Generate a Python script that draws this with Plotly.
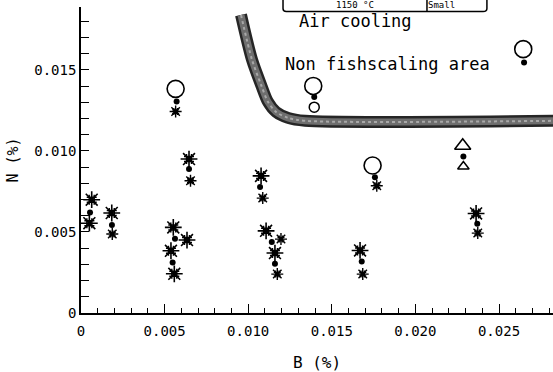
import plotly.graph_objects as go

# ---- data (B %, N %) ----
big_ast_B = [0.00064, 0.00050, 0.00184, 0.00646, 0.00552, 0.00538, 0.00558, 0.00634,
             0.01077, 0.01107, 0.01160, 0.01669, 0.02363]
big_ast_N = [0.00699, 0.00554, 0.00617, 0.00950, 0.00528, 0.00384, 0.00242, 0.00450,
             0.00846, 0.00507, 0.00370, 0.00386, 0.00614]

small_ast_B = [0.00187, 0.00566, 0.00655, 0.01087, 0.01196, 0.01174, 0.01685, 0.01769, 0.02373]
small_ast_N = [0.00487, 0.01243, 0.00816, 0.00709, 0.00456, 0.00240, 0.00240, 0.00785, 0.00493]

dot_B = [0.00054, 0.00185, 0.00572, 0.00646, 0.00562, 0.00548, 0.01071, 0.01141,
         0.01160, 0.01395, 0.01679, 0.01758, 0.02287, 0.02370, 0.02650]
dot_N = [0.00620, 0.00543, 0.01305, 0.00888, 0.00458, 0.00312, 0.00777, 0.00438,
         0.00304, 0.01332, 0.00318, 0.00838, 0.00965, 0.00551, 0.01545]

big_circ_B = [0.00566, 0.01389, 0.01744, 0.02645]
big_circ_N = [0.01383, 0.01401, 0.00910, 0.01628]
small_circ_B = [0.01395]
small_circ_N = [0.01270]

big_tri_B = [0.02283]
big_tri_N = [0.01032]
small_tri_B = [0.02287]
small_tri_N = [0.00904]

# boundary of the non fishscaling area
bound_B = [0.00957, 0.01023, 0.01077, 0.01118, 0.01166, 0.01238, 0.01340, 0.02850]
bound_N = [0.01839, 0.01562, 0.01408, 0.01303, 0.01241, 0.01204, 0.01186, 0.01186]

x_tickvals = [0, 0.005, 0.010, 0.015, 0.020, 0.025]
x_ticktext = ["0", "0.005", "0.010", "0.015", "0.020", "0.025"]
y_tickvals = [0, 0.005, 0.010, 0.015]
y_ticktext = ["0", "0.005", "0.010", "0.015"]

FONT = "DejaVu Sans Mono"

fig = go.Figure()

# boundary band
fig.add_trace(go.Scatter(x=bound_B, y=bound_N, mode="lines", line=dict(color="#262626", width=12, shape="spline", smoothing=0.8),
                         hoverinfo="skip", showlegend=False))
fig.add_trace(go.Scatter(x=bound_B, y=bound_N, mode="lines", line=dict(color="#6e6e6e", width=7, shape="spline", smoothing=0.8),
                         hoverinfo="skip", showlegend=False))
fig.add_trace(go.Scatter(x=bound_B, y=bound_N, mode="lines", line=dict(color="#a8a8a8", width=2, dash="dot", shape="spline", smoothing=0.8),
                         hoverinfo="skip", showlegend=False))

def ast(xs, ys, s1, s2, w):
    fig.add_trace(go.Scatter(x=xs, y=ys, mode="markers", showlegend=False,
                             marker=dict(symbol="asterisk-open", size=s1, color="black",
                                         line=dict(color="black", width=w))))
    fig.add_trace(go.Scatter(x=xs, y=ys, mode="markers", showlegend=False,
                             marker=dict(symbol="hash-open", size=s2, color="black",
                                         line=dict(color="black", width=w * 0.9))))

ast(big_ast_B, big_ast_N, 14, 10, 1.6)
ast(small_ast_B, small_ast_N, 10, 7, 1.4)

fig.add_trace(go.Scatter(x=dot_B, y=dot_N, mode="markers", showlegend=False,
                         marker=dict(symbol="circle", size=6, color="black")))
fig.add_trace(go.Scatter(x=big_circ_B, y=big_circ_N, mode="markers", showlegend=False,
                         marker=dict(symbol="circle-open", size=17, color="black", line=dict(width=1.6))))
fig.add_trace(go.Scatter(x=small_circ_B, y=small_circ_N, mode="markers", showlegend=False,
                         marker=dict(symbol="circle-open", size=10, color="black", line=dict(width=1.5))))
fig.add_trace(go.Scatter(x=big_tri_B, y=big_tri_N, mode="markers", showlegend=False,
                         marker=dict(symbol="triangle-up-open", size=14, color="black", line=dict(width=1.6))))
fig.add_trace(go.Scatter(x=small_tri_B, y=small_tri_N, mode="markers", showlegend=False,
                         marker=dict(symbol="triangle-up-open", size=10, color="black", line=dict(width=1.5))))

fig.update_layout(
    width=553, height=372,
    margin=dict(l=81, r=0, t=7, b=59),
    paper_bgcolor="white", plot_bgcolor="white",
    font=dict(family=FONT, size=14, color="black"),
    showlegend=False,
    xaxis=dict(range=[0, 0.02823], tickvals=x_tickvals, ticktext=x_ticktext,
               showgrid=False, zeroline=False, showline=True, linecolor="black", linewidth=1.6,
               ticks="inside", ticklen=9, tickwidth=1.3, tickcolor="black",
               minor=dict(dtick=0.001, ticks="inside", ticklen=5, tickwidth=1.2, tickcolor="black"),
               ticklabelstandoff=4,
               title=dict(text="B (%)", font=dict(family=FONT, size=16), standoff=20),
               tickfont=dict(family=FONT, size=14)),
    yaxis=dict(range=[0, 0.01888], tickvals=y_tickvals, ticktext=y_ticktext,
               showgrid=False, zeroline=False, showline=True, linecolor="black", linewidth=1.6,
               ticks="inside", ticklen=8, tickwidth=1.3, tickcolor="black",
               minor=dict(dtick=0.001, ticks="inside", ticklen=8, tickwidth=1.2, tickcolor="black"),
               title=dict(text="N (%)", font=dict(family=FONT, size=15), standoff=12),
               tickfont=dict(family=FONT, size=14)),
)

# small table at the top (kept fully readable)
fig.add_shape(type="path", xref="paper", yref="paper",
              path="M 0.428,1.03 L 0.428,0.995 Q 0.428,0.985 0.435,0.985 L 0.852,0.985 Q 0.86,0.985 0.86,0.995 L 0.86,1.03",
              line=dict(color="black", width=1.5))
fig.add_shape(type="line", xref="paper", yref="paper", x0=0.733, x1=0.733, y0=0.985, y1=1.03,
              line=dict(color="black", width=1.5))
fig.add_annotation(text="1150 °C", xref="paper", yref="paper", x=0.58, y=1.006, yanchor="middle",
                   showarrow=False, font=dict(family=FONT, size=9))
fig.add_annotation(text="Small", xref="paper", yref="paper", x=0.797, y=1.006, yanchor="middle",
                   showarrow=False, font=dict(family=FONT, size=9))

fig.add_annotation(text="Air cooling", xref="paper", yref="paper", x=(297 - 81) / 472, y=(313.3 - 21) / 306.3,
                   xanchor="left", yanchor="middle", showarrow=False, font=dict(family=FONT, size=17))
fig.add_annotation(text="Non fishscaling area", xref="paper", yref="paper", x=(283 - 81) / 472,
                   y=(313.3 - 64) / 306.3, xanchor="left", yanchor="middle", showarrow=False,
                   font=dict(family=FONT, size=17))

fig.write_html("out.html")
